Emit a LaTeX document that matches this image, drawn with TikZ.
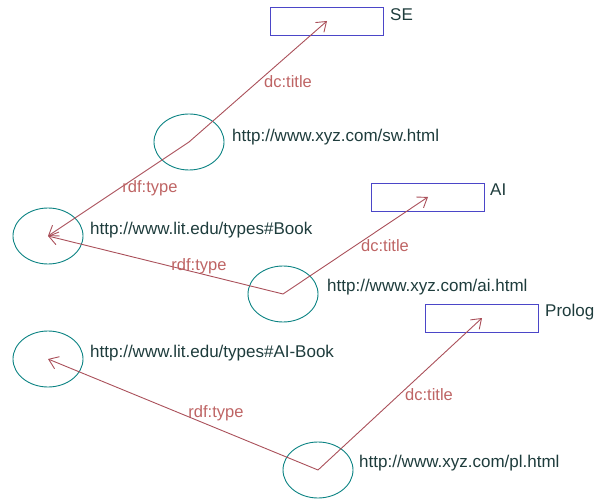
\documentclass[tikz,border=0pt]{standalone}
\usepackage{fontspec}
\setmainfont{Liberation Sans}
\usetikzlibrary{shapes.geometric,arrows.meta}
\definecolor{circ}{RGB}{10,130,130}
\definecolor{boxc}{RGB}{75,70,200}
\definecolor{edgec}{RGB}{170,80,90}
\definecolor{labc}{RGB}{190,100,100}
\definecolor{txtc}{RGB}{30,60,60}
\begin{document}
\begin{tikzpicture}[x=1pt,y=-1pt,
  res/.style={draw=circ,line width=0.9pt,ellipse,minimum width=70pt,minimum height=56pt,inner sep=0pt},
  lit/.style={draw=boxc,line width=0.9pt,rectangle,minimum width=113pt,minimum height=28pt,inner sep=0pt},
  txt/.style={anchor=west,inner sep=0pt,text=txtc,font=\fontsize{17}{19}\selectfont},
  elab/.style={inner sep=0pt,text=labc,font=\fontsize{16.5}{18}\selectfont},
  rel/.style={draw=edgec,line width=0.9pt,-{Straight Barb[length=9pt,width=13pt]}}]
\useasboundingbox (0,0) rectangle (603,500);
% resources
\node[res] (sw) at (189,142) {};
\node[res] (book) at (48,236) {};
\node[res] (ai) at (283,294) {};
\node[res] (aibook) at (48,359) {};
\node[res] (pl) at (318,470) {};
% literals
\node[lit] (se) at (327,21) {};
\node[lit] (ailit) at (428,197) {};
\node[lit] (prolog) at (482,318) {};
% texts
\node[txt] (tsw) at (232,137) {http://www.xyz.com/sw.html};
\node[txt] (tbook) at (90,230) {http://www.lit.edu/types\#Book};
\node[txt] (tai) at (327,287) {http://www.xyz.com/ai.html};
\node[txt] (taibook) at (90,353) {http://www.lit.edu/types\#AI-Book};
\node[txt] (tpl) at (359,463) {http://www.xyz.com/pl.html};
\node[txt] (tse) at (390,15) {SE};
\node[txt] (tailit) at (490,190) {AI};
\node[txt] (tprolog) at (545,312) {Prolog};
% edges
\draw[rel] (sw.center) -- (se.center);
\draw[rel] (sw.center) -- (book.center);
\draw[rel] (ai.center) -- (book.center);
\draw[rel] (ai.center) -- (ailit.center);
\draw[rel] (pl.center) -- (aibook.center);
\draw[rel] (pl.center) -- (prolog.center);
% edge labels
\node[elab] (l1) at (288,82) {dc:title};
\node[elab] (l2) at (150,188) {rdf:type};
\node[elab] (l3) at (199,266) {rdf:type};
\node[elab] (l4) at (385,246) {dc:title};
\node[elab] (l5) at (216,413) {rdf:type};
\node[elab] (l6) at (429,395) {dc:title};
\end{tikzpicture}
\end{document}
